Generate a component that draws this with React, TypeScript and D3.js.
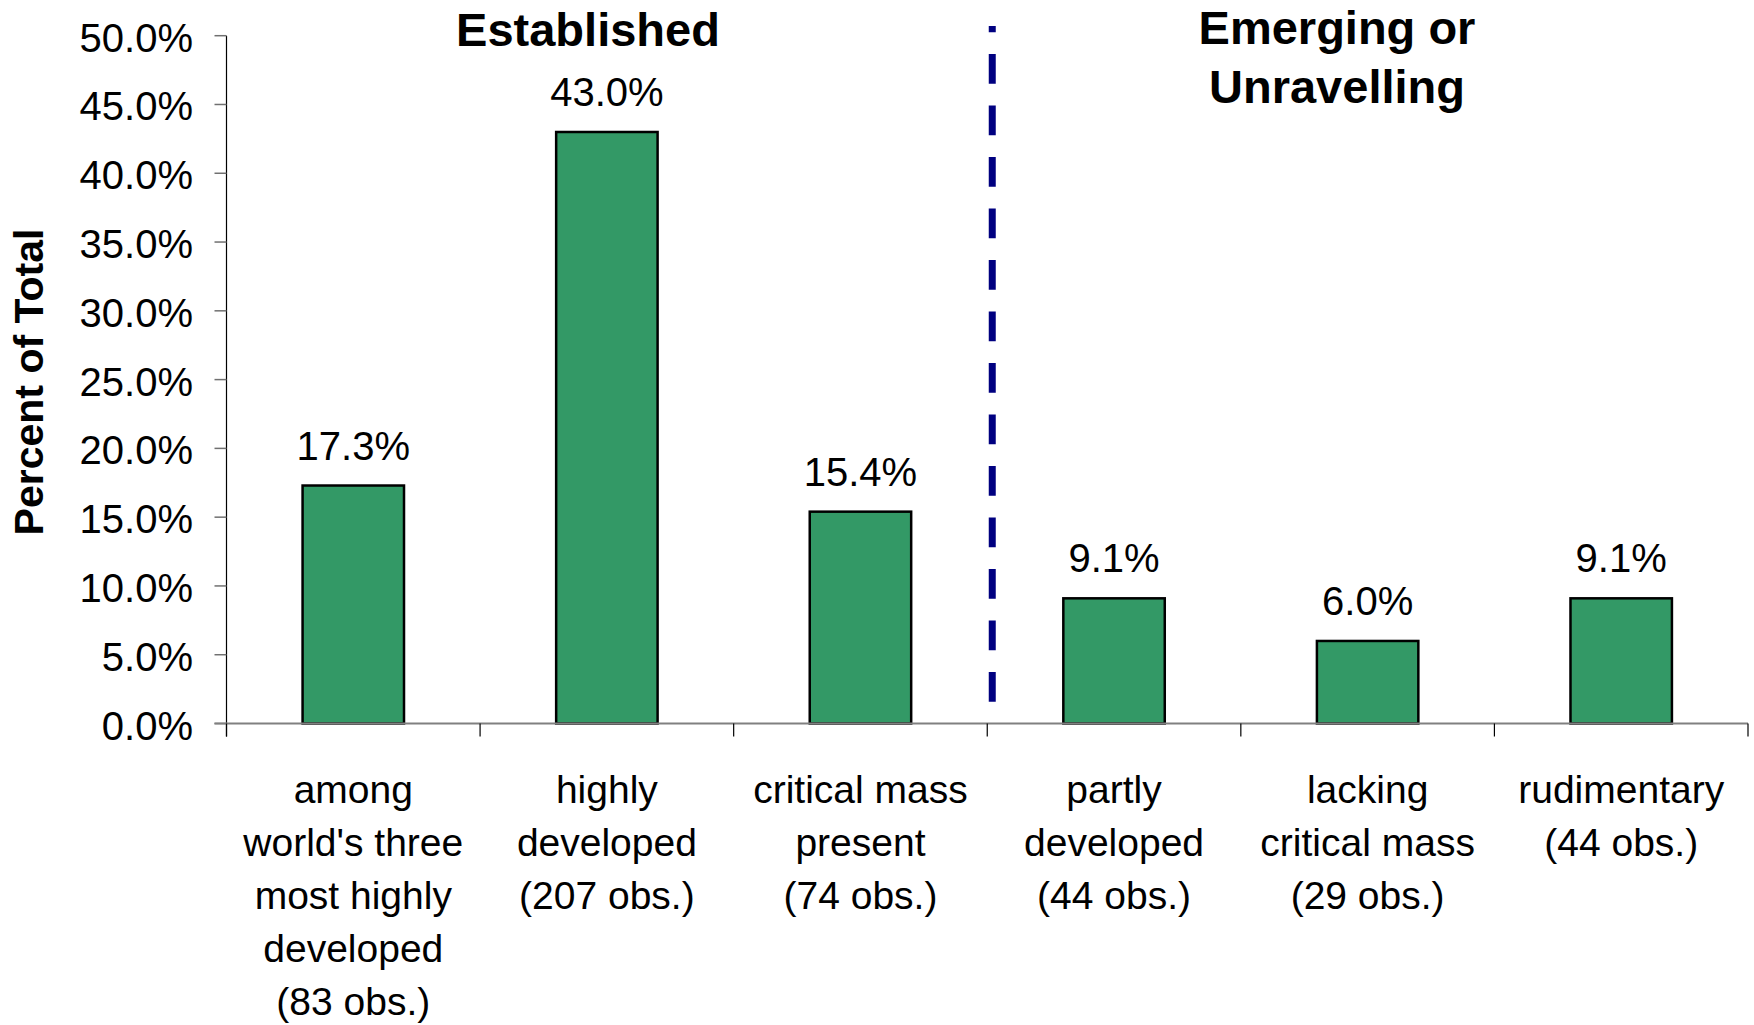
import React, { useEffect, useRef } from 'react';
import * as d3 from 'd3';

// 数据
const categories = [
  ['among', "world's three", 'most highly', 'developed', '(83 obs.)'],
  ['highly', 'developed', '(207 obs.)'],
  ['critical mass', 'present', '(74 obs.)'],
  ['partly', 'developed', '(44 obs.)'],
  ['lacking', 'critical mass', '(29 obs.)'],
  ['rudimentary', '(44 obs.)'],
];
const values = [17.3, 43.0, 15.4, 9.1, 6.0, 9.1];
const yTicks = [0, 5, 10, 15, 20, 25, 30, 35, 40, 45, 50];
const groupLabels = [
  { lines: ['Established'], x: 588 },
  { lines: ['Emerging or', 'Unravelling'], x: 1337 },
];

const W = 1754;
const H = 1025;
const FONT = '"Liberation Sans", Arial, sans-serif';

const App: React.FC = () => {
  const svgRef = useRef<SVGSVGElement>(null);

  useEffect(() => {
    if (!svgRef.current) return;
    const svg = d3.select(svgRef.current);
    svg.selectAll('*').remove();

    const margin = { left: 226.5, right: 6, top: 35.7, bottom: 301.5 };
    const idx = categories.map((_, i) => String(i));

    const x = d3.scaleBand()
      .domain(idx)
      .range([margin.left, W - margin.right])
      .paddingInner(0)
      .paddingOuter(0);

    const y = d3.scaleLinear()
      .domain([0, 50])
      .range([H - margin.bottom, margin.top]);

    const barW = x.bandwidth() * 0.4;

    // Y轴
    svg.append('line')
      .attr('x1', margin.left).attr('x2', margin.left)
      .attr('y1', y(50)).attr('y2', y(0) + 13)
      .attr('stroke', '#000').attr('stroke-width', 1.2);

    const yg = svg.append('g');
    yTicks.forEach(t => {
      yg.append('line')
        .attr('x1', margin.left - 12).attr('x2', margin.left)
        .attr('y1', y(t)).attr('y2', y(t))
        .attr('stroke', '#707070').attr('stroke-width', 1.5);
      yg.append('text')
        .attr('x', 193)
        .attr('y', y(t) + 16)
        .attr('text-anchor', 'end')
        .attr('font-family', FONT)
        .attr('font-size', 40)
        .attr('fill', '#000')
        .text(`${t.toFixed(1)}%`);
    });

    // 柱体
    svg.selectAll('.bar')
      .data(values)
      .enter()
      .append('rect')
      .attr('class', 'bar')
      .attr('x', (_, i) => x(String(i))! + (x.bandwidth() - barW) / 2)
      .attr('y', d => y(d))
      .attr('width', barW)
      .attr('height', d => y(0) - y(d))
      .attr('fill', '#339966')
      .attr('stroke', '#000')
      .attr('stroke-width', 2.5);

    // X轴
    svg.append('line')
      .attr('x1', margin.left - 12).attr('x2', W - margin.right)
      .attr('y1', y(0)).attr('y2', y(0))
      .attr('stroke', '#808080').attr('stroke-width', 2);

    idx.concat(['end']).forEach((_, i) => {
      const px = margin.left + i * x.bandwidth();
      svg.append('line')
        .attr('x1', px).attr('x2', px)
        .attr('y1', y(0)).attr('y2', y(0) + 13)
        .attr('stroke', '#000').attr('stroke-width', 1.2);
    });

    // 数值标签
    svg.selectAll('.val')
      .data(values)
      .enter()
      .append('text')
      .attr('class', 'val')
      .attr('x', (_, i) => x(String(i))! + x.bandwidth() / 2)
      .attr('y', d => y(d) - 26)
      .attr('text-anchor', 'middle')
      .attr('font-family', FONT)
      .attr('font-size', 40)
      .attr('fill', '#000')
      .text(d => `${d.toFixed(1)}%`);

    // 类别标签
    categories.forEach((lines, i) => {
      const t = svg.append('text')
        .attr('text-anchor', 'middle')
        .attr('font-family', FONT)
        .attr('font-size', 39)
        .attr('fill', '#000');
      lines.forEach((ln, j) => {
        t.append('tspan')
          .attr('x', x(String(i))! + x.bandwidth() / 2)
          .attr('y', 803 + j * 53)
          .text(ln);
      });
    });

    // 分隔虚线
    const sepX = margin.left + 3 * x.bandwidth() + 5;
    svg.append('line')
      .attr('x1', sepX).attr('x2', sepX)
      .attr('y1', 701.7).attr('y2', 26)
      .attr('stroke', '#000080')
      .attr('stroke-width', 7)
      .attr('stroke-dasharray', '29.7,21.8');

    // 分组标题
    groupLabels.forEach(g => {
      const t = svg.append('text')
        .attr('text-anchor', 'middle')
        .attr('font-family', FONT)
        .attr('font-weight', 'bold')
        .attr('font-size', 47)
        .attr('fill', '#000');
      g.lines.forEach((ln, j) => {
        t.append('tspan')
          .attr('x', g.x)
          .attr('y', (g.lines.length > 1 ? 43.5 : 45.5) + j * 59.5)
          .text(ln);
      });
    });

    // Y轴标题
    svg.append('text')
      .attr('transform', `translate(43, 382) rotate(-90)`)
      .attr('text-anchor', 'middle')
      .attr('font-family', FONT)
      .attr('font-weight', 'bold')
      .attr('font-size', 41)
      .attr('fill', '#000')
      .text('Percent of Total');
  }, []);

  return (
    <svg
      ref={svgRef}
      width={W}
      height={H}
      style={{ position: 'absolute', left: 0, top: 0, background: '#fff', display: 'block' }}
    />
  );
};

export default App;
